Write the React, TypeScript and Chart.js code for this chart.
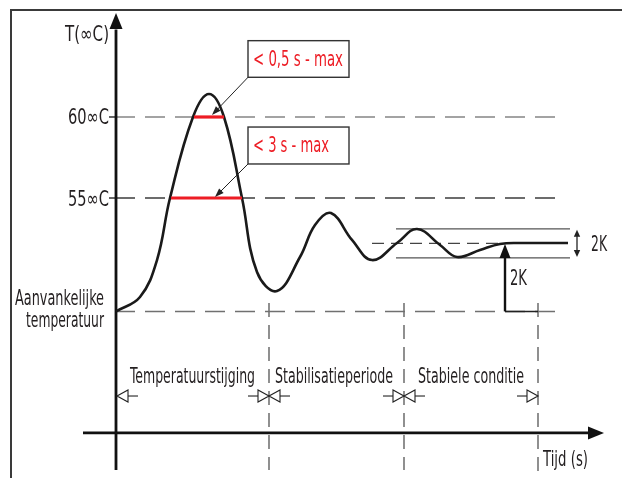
import React, { useEffect, useRef } from "react";
import { Chart, registerables } from "chart.js";

Chart.register(...registerables);

// ---- data (time in s, temperature in °C, schematic) ----
const curveTime = [0, 2.4, 4.1, 5.4, 7.7, 9.3, 10.8, 12.6, 14.1, 16.1, 18.4, 19.9, 21.5, 23.6, 25.6, 28.1, 30.1, 32.4, 34.1, 36.4, 38.4, 40.4, 45.2];
const curveTemp = [48.0, 48.89, 51.17, 55.0, 60.0, 61.42, 60.0, 55.0, 50.43, 49.26, 51.36, 53.33, 54.07, 52.41, 51.17, 52.22, 53.09, 52.1, 51.36, 51.79, 52.16, 52.22, 52.22];

const tickValues = [60, 55];
const tickLabels = ["60∞C", "55∞C"];
const initialTemp = 48;
const steadyTemp = 52.2;
const bandHalf = 0.9;
const limitSpan60 = [7.8, 10.8];
const limitSpan55 = [5.5, 12.6];
const limitLabels = ["< 0,5 s - max", "< 3 s - max"];
const phaseBounds = [0, 15.3, 28.8, 42.2];
const phaseLabels = ["Temperatuurstijging", "Stabilisatieperiode", "Stabiele conditie"];
const axisTitleY = "T(∞C)";
const axisTitleX = "Tijd (s)";
const initialLabel = ["Aanvankelijke", "temperatuur"];
const bandLabel = "2K";

const X_MIN = -11.6, X_MAX = 50.6;
const Y_MIN = 37.72, Y_MAX = 67.22;
const X_AXIS_T = 40.5;
const DASH_END = 43.9;

const FONT = '21px "Liberation Sans Narrow", "DejaVu Sans Condensed", "Roboto", "Liberation Sans", sans-serif';

type P = [number, number];
const seg = (pts: P[], color: string, width: number, dash: number[] = [], extra: any = {}) => ({
  type: "line",
  data: pts.map(([a, b]) => ({ x: a, y: b })),
  borderColor: color,
  borderWidth: width,
  borderDash: dash,
  pointRadius: 0,
  fill: false,
  tension: 0,
  borderCapStyle: "butt",
  ...extra,
});

function fitText(ctx: CanvasRenderingContext2D, text: string, x: number, y: number, w: number, align: "left" | "right" | "center" = "left") {
  ctx.textAlign = "left";
  ctx.textBaseline = "alphabetic";
  const m = ctx.measureText(text).width;
  const sx = w / m;
  ctx.save();
  ctx.translate(x, y);
  ctx.scale(sx, 1);
  const ox = align === "right" ? -m : align === "center" ? -m / 2 : 0;
  ctx.fillText(text, ox, 0);
  ctx.restore();
}

function filledArrow(ctx: CanvasRenderingContext2D, tx: number, ty: number, fx: number, fy: number, len: number, hw: number, color: string) {
  const a = Math.atan2(ty - fy, tx - fx);
  const bx = tx - Math.cos(a) * len, by = ty - Math.sin(a) * len;
  const nx = -Math.sin(a) * hw, ny = Math.cos(a) * hw;
  ctx.beginPath();
  ctx.moveTo(tx, ty);
  ctx.lineTo(bx + nx, by + ny);
  ctx.lineTo(bx - nx, by - ny);
  ctx.closePath();
  ctx.fillStyle = color;
  ctx.fill();
}

function openTriangle(ctx: CanvasRenderingContext2D, tipX: number, y: number, dir: number) {
  const len = 11, hw = 6, tail = 10;
  const baseX = tipX - dir * len;
  ctx.beginPath();
  ctx.moveTo(tipX, y);
  ctx.lineTo(baseX, y - hw);
  ctx.lineTo(baseX, y + hw);
  ctx.closePath();
  ctx.fillStyle = "#fff";
  ctx.fill();
  ctx.strokeStyle = "#222";
  ctx.lineWidth = 1.1;
  ctx.stroke();
  ctx.beginPath();
  ctx.moveTo(baseX, y);
  ctx.lineTo(baseX - dir * tail, y);
  ctx.stroke();
}

const overlay = {
  id: "overlay",
  beforeDraw(chart: any) {
    const { ctx, width, height } = chart;
    ctx.save();
    ctx.fillStyle = "#fff";
    ctx.fillRect(0, 0, width, height);
    ctx.strokeStyle = "#3a3a3a";
    ctx.lineWidth = 2;
    ctx.beginPath();
    ctx.moveTo(11, height);
    ctx.lineTo(11, 10);
    ctx.lineTo(width, 10);
    ctx.stroke();
    ctx.restore();
  },
  afterDatasetsDraw(chart: any) {
    const { ctx } = chart;
    const xs = chart.scales.x, ys = chart.scales.y;
    const X = (v: number) => xs.getPixelForValue(v);
    const Y = (v: number) => ys.getPixelForValue(v);
    ctx.save();

    filledArrow(ctx, X(0), Y(66.42), X(0), Y(60), 16, 6.5, "#111");
    filledArrow(ctx, X(48.8), Y(X_AXIS_T), X(40), Y(X_AXIS_T), 16, 6.5, "#111");

    const boxes = [
      { t0: 13.2, t1: 23.3, T0: 64.71, T1: 62.45, tip: [9.6, 60.12], base: 63.12, w: 90 },
      { t0: 13.2, t1: 23.3, T0: 59.38, T1: 57.1, tip: [9.9, 55.06], base: 57.81, w: 76 },
    ];
    boxes.forEach((b, i) => {
      const x0 = X(b.t0), x1 = X(b.t1), y0 = Y(b.T0), y1 = Y(b.T1);
      ctx.fillStyle = "#fff";
      ctx.fillRect(x0, y0, x1 - x0, y1 - y0);
      ctx.strokeStyle = "#333";
      ctx.lineWidth = 1.4;
      ctx.strokeRect(x0, y0, x1 - x0, y1 - y0);
      ctx.font = FONT;
      ctx.fillStyle = "#ed1c24";
      fitText(ctx, limitLabels[i], X(b.t0 + 0.5), Y(b.base), b.w);
      const tx = X(b.tip[0]), ty = Y(b.tip[1]);
      const a = Math.atan2(ty - y1, tx - x0);
      ctx.strokeStyle = "#222";
      ctx.lineWidth = 1;
      ctx.beginPath();
      ctx.moveTo(x0, y1);
      ctx.lineTo(tx - Math.cos(a) * 6, ty - Math.sin(a) * 6);
      ctx.stroke();
      filledArrow(ctx, tx, ty, x0, y1, 9, 3.2, "#222");
    });

    const dx = X(46.1);
    ctx.strokeStyle = "#222";
    ctx.lineWidth = 1.3;
    ctx.beginPath();
    ctx.moveTo(dx, Y(steadyTemp + bandHalf) + 5);
    ctx.lineTo(dx, Y(steadyTemp - bandHalf) - 5);
    ctx.stroke();
    filledArrow(ctx, dx, Y(steadyTemp + bandHalf) + 1, dx, Y(steadyTemp), 7, 3.2, "#222");
    filledArrow(ctx, dx, Y(steadyTemp - bandHalf) - 1, dx, Y(steadyTemp), 7, 3.2, "#222");

    filledArrow(ctx, X(38.9), Y(52.16), X(38.9), Y(initialTemp), 14, 5.5, "#111");

    const py = Y(42.78);
    openTriangle(ctx, X(phaseBounds[0]) + 1, py, -1);
    openTriangle(ctx, X(phaseBounds[1]), py, 1);
    openTriangle(ctx, X(phaseBounds[1]), py, -1);
    openTriangle(ctx, X(phaseBounds[2]), py, 1);
    openTriangle(ctx, X(phaseBounds[2]), py, -1);
    openTriangle(ctx, X(phaseBounds[3]), py, 1);

    ctx.font = FONT;
    ctx.fillStyle = "#231f20";
    fitText(ctx, axisTitleY, X(-5.1), Y(64.69), 44);
    tickValues.forEach((v, i) => fitText(ctx, tickLabels[i], X(-0.7), Y(v) + 7.5, 41, "right"));
    fitText(ctx, initialLabel[0], X(-1.2), Y(initialTemp) - 6, 89, "right");
    fitText(ctx, initialLabel[1], X(-1.2), Y(initialTemp) + 16, 78, "right");
    const phaseLeft = [1.4, 15.9, 30.2];
    const phaseW = [125, 118, 106];
    phaseLabels.forEach((l, i) => fitText(ctx, l, X(phaseLeft[i]), Y(43.58), phaseW[i]));
    fitText(ctx, axisTitleX, X(42.7), Y(38.46), 45);
    fitText(ctx, bandLabel, X(47.5), Y(51.76), 16);
    fitText(ctx, bandLabel, X(39.4), Y(49.66), 17);

    ctx.restore();
  },
};

export default function App() {
  const ref = useRef<HTMLCanvasElement | null>(null);
  useEffect(() => {
    if (!ref.current) return;
    const curve = curveTime.map((t, i) => ({ x: t, y: curveTemp[i] }));
    const datasets: any[] = [
      seg([[limitSpan60[0], 60], [limitSpan60[1], 60]], "#ed1c24", 3.2),
      seg([[limitSpan55[0], 55], [limitSpan55[1], 55]], "#ed1c24", 3.2),
      {
        type: "line",
        data: curve,
        borderColor: "#1a1a1a",
        borderWidth: 2.6,
        pointRadius: 0,
        fill: false,
        tension: 0.4,
      },
      seg([[0, 38.21], [0, 65.4]], "#111", 2.8),
      seg([[-3.3, X_AXIS_T], [47.4, X_AXIS_T]], "#111", 2.8),
      seg([[38.9, initialTemp], [38.9, 51.4]], "#111", 2.4),
      seg([[38.9, initialTemp], [42.2, initialTemp]], "#222", 1.6),
      seg([[28.0, steadyTemp + bandHalf], [45.4, steadyTemp + bandHalf]], "#555", 1.3),
      seg([[28.0, steadyTemp - bandHalf], [45.4, steadyTemp - bandHalf]], "#555", 1.3),
      seg([[25.6, steadyTemp], [38.4, steadyTemp]], "#444", 1.3, [12, 7]),
      seg([[-0.7, 60], [0, 60]], "#333", 1.5),
      seg([[-0.7, 55], [0, 55]], "#333", 1.5),
      seg([[DASH_END, 60], [0, 60]], "#858585", 1.5, [20, 10]),
      seg([[DASH_END, 55], [0, 55]], "#3c3c3c", 1.5, [20, 10]),
      seg([[DASH_END, initialTemp], [0, initialTemp]], "#707070", 1.5, [20, 10]),
      seg([[phaseBounds[1], 48.52], [phaseBounds[1], 38.21]], "#555", 1.3, [14, 8]),
      seg([[phaseBounds[2], 48.52], [phaseBounds[2], 38.21]], "#555", 1.3, [14, 8]),
      seg([[phaseBounds[3], 48.52], [phaseBounds[3], 37.78]], "#555", 1.3, [14, 8]),
    ];
    const chart = new Chart(ref.current, {
      type: "line",
      data: { datasets },
      options: {
        animation: false,
        responsive: true,
        maintainAspectRatio: false,
        events: [],
        layout: { padding: 0 },
        plugins: { legend: { display: false }, tooltip: { enabled: false } },
        scales: {
          x: { type: "linear", min: X_MIN, max: X_MAX, display: false },
          y: { type: "linear", min: Y_MIN, max: Y_MAX, display: false },
        },
      },
      plugins: [overlay],
    } as any);
    return () => chart.destroy();
  }, []);
  return (
    <div style={{ position: "absolute", left: 0, top: 0, width: 622, height: 478 }}>
      <canvas ref={ref} />
    </div>
  );
}
